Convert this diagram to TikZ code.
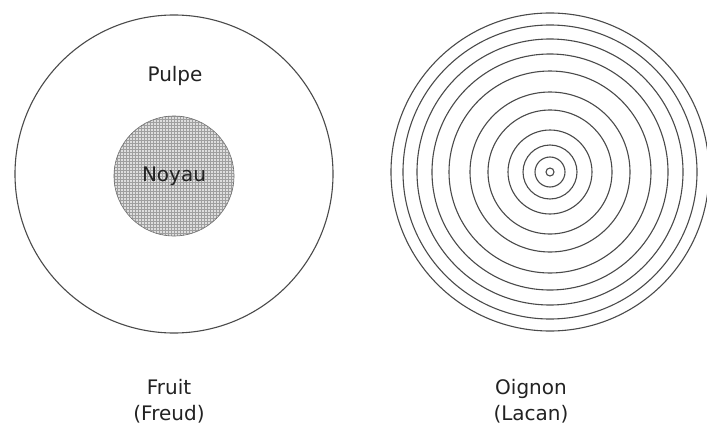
\documentclass[tikz,border=0pt]{standalone}
\usepackage{fontspec}
\setmainfont{DejaVu Sans}
\usetikzlibrary{patterns}
\definecolor{ringGray}{HTML}{4A4A4A}
\definecolor{coreGray}{HTML}{C8C8C8}
\definecolor{textGray}{HTML}{222222}

\begin{document}
\begin{tikzpicture}[
  x=1pt, y=-1pt,
  font=\fontsize{20}{26}\selectfont,
  %% Shape styles
  fruitskin/.style={
    circle, draw=ringGray, line width=1.1pt,
    minimum size=318pt, inner sep=0pt
  },
  kernel/.style={
    circle, draw=ringGray!80, line width=0.6pt,
    preaction={fill=coreGray!60}, pattern=grid, pattern color=gray!75,
    minimum size=120pt, inner sep=0pt
  },
  layer/.style={draw=ringGray, line width=1.1pt},
  %% Text styles
  word/.style={text=textGray, inner sep=0pt},
  caption/.style={text=textGray, align=center, inner sep=0pt},
]

%% ── Canvas ────────────────────────────────────────────────────────────────
\path[fill=white, use as bounding box] (0,0) rectangle (707,428);

%% ── Fruit (Freud) ─────────────────────────────────────────────────────────
\node[fruitskin] (fruit) at (174,174) {};
\node[kernel] (noyau) at (174,176) {};
\node[word] at (noyau.center) {Noyau};
\node[word] (pulpe) at (175,76) {Pulpe};

%% ── Oignon (Lacan) ────────────────────────────────────────────────────────
\coordinate (onion) at (550,172);
\foreach \r in {4,15,27,42,62,80,101,118,133,147,159}
  \draw[layer] (onion) circle (\r pt);

%% ── Captions ──────────────────────────────────────────────────────────────
\node[caption] (fruitcap) at (169,401) {Fruit\\(Freud)};
\node[caption] (onioncap) at (531,401) {Oignon\\(Lacan)};

\end{tikzpicture}
\end{document}
